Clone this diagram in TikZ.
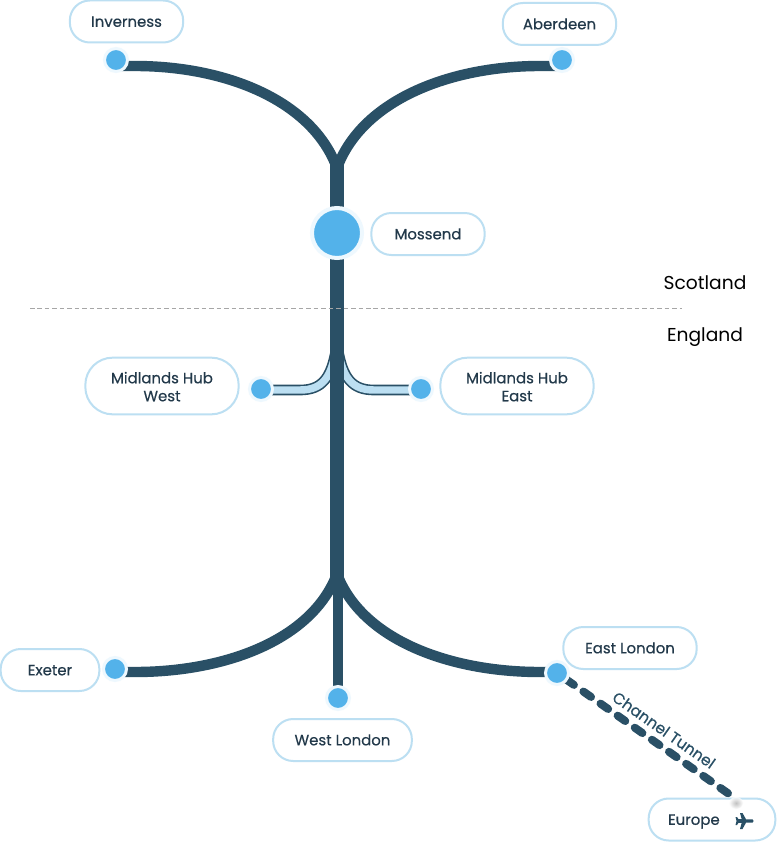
\documentclass[tikz,border=0pt]{standalone}
\usepackage{fontspec}
\usetikzlibrary{backgrounds}
\setmainfont{Poppins}
\newfontfamily\lblfont[FakeBold=0.35]{Poppins}
\definecolor{rail}{HTML}{2A5066}
\definecolor{stn}{HTML}{53B2EA}
\definecolor{halo}{HTML}{EEF8FE}
\definecolor{pill}{HTML}{BCDFF2}
\definecolor{ink}{HTML}{22394A}
\tikzset{
  x=0.75pt,y=-0.75pt,
  pillbase/.style={draw=pill,line width=1.5pt,fill=white,align=center,text=ink,font=\lblfont\fontsize{11.2}{13.5}\selectfont,inner sep=0pt},
  label/.style={pillbase,rounded corners=15pt,minimum height=31.5pt,text height=8pt,text depth=0pt},
  tall/.style={pillbase,rounded corners=20.5pt,minimum height=42.5pt},
  stop/.style={circle,fill=stn,draw=halo,line width=2.25pt,minimum size=17.25pt,inner sep=0pt,outer sep=0pt},
  bigstop/.style={stop,line width=3pt,minimum size=37.5pt},
  mainrail/.style={draw=rail,line width=10.5pt},
  stem/.style={draw=rail,line width=7.8pt},
  branch/.style={draw=rail,line width=7.8pt},
  spur/.style={draw=rail,line width=8pt},
  spurin/.style={draw=pill,line width=5.6pt},
  region/.style={text=black,font=\fontsize{14}{16}\selectfont},
  tunnel/.style={draw=rail,line width=6pt,line cap=round,dash pattern=on 7pt off 8.7pt,dash phase=7.2pt}
}
\begin{document}
\begin{tikzpicture}
\useasboundingbox (0,0) rectangle (777,842);
% stops
\node[stop] (inv) at (116,60) {};
\node[stop] (abe) at (562,60) {};
\node[bigstop] (mos) at (337,233) {};
\node[stop] (mhw) at (261,389) {};
\node[stop] (mhe) at (421,389) {};
\node[stop] (exe) at (115,669) {};
\node[stop] (wlo) at (338,698) {};
\node[stop] (elo) at (557,673) {};
% free ends and junctions
\coordinate (top) at (337,165);
\coordinate (lowend) at (337,588);
\coordinate (stemtop) at (338,575);
\coordinate (topj) at (337,168);
\coordinate (lowj) at (337,574);
\coordinate (midjl) at (336,350);
\coordinate (midjr) at (338,350);
\coordinate (invr) at (135,66);
\coordinate (aber) at (540,66);
\coordinate (exer) at (135,672);
\coordinate (elor) at (540,672);
\coordinate (mhwr) at (300,390);
\coordinate (mher) at (374,390);
\coordinate (tunnelend) at (729,794);
\begin{scope}[on background layer]
\fill[white] (0,0) rectangle (777,842);
\draw[spur] (midjl) .. controls (331,378) and (322,390) .. (mhwr) -- (mhw.center |- mhwr);
\draw[spur] (midjr) .. controls (343,378) and (352,390) .. (mher) -- (mhe.center |- mher);
\draw[spurin] (midjl) .. controls (331,378) and (322,390) .. (mhwr) -- (mhw.center |- mhwr);
\draw[spurin] (midjr) .. controls (343,378) and (352,390) .. (mher) -- (mhe.center |- mher);
\draw[mainrail] (top) -- (lowend);
\draw[stem] (stemtop) -- (wlo.center);
\draw[branch] (topj) .. controls (312,100) and (225,66) .. (invr) -- (inv.center |- invr);
\draw[branch] (topj) .. controls (362,100) and (450,66) .. (aber) -- (abe.center |- aber);
\draw[branch] (lowj) .. controls (312,640) and (225,672) .. (exer) -- (exe.center |- exer);
\draw[branch] (lowj) .. controls (362,640) and (450,672) .. (elor) -- (elo.center |- elor);
\draw[tunnel] (elo.center) -- (tunnelend);
\end{scope}
% labels
\node[label,minimum width=85pt] (linv) at (126.5,21.5) {Inverness};
\node[label,minimum width=85pt] (labe) at (559.5,24) {Aberdeen};
\node[label,minimum width=85pt] (lmos) at (428,234) {Mossend};
\node[tall,minimum width=115pt] (lmhw) at (162,386) {\rule{0pt}{9.5pt}Midlands Hub\\West};
\node[tall,minimum width=115pt] (lmhe) at (517,386) {\rule{0pt}{9.5pt}Midlands Hub\\East};
\node[label,minimum width=74pt] (lexe) at (50,670) {Exeter};
\node[label,minimum width=104pt] (lwlo) at (342.5,740) {West London};
\node[label,minimum width=100pt] (lelo) at (630,648) {East London};
\node[label,minimum width=95pt,text width=85pt,align=left] (leur) at (712,819.5) {\hspace*{9.5pt}Europe};
\fill[rail,shift={(744.5,821)}] (8,-1.7) .. controls (9.5,-1) and (9.5,1) .. (8,1.7) -- (1.5,1.7) -- (-2,8) -- (-4.5,8) -- (-2.8,1.8) -- (-6,1.8) -- (-7.5,4) -- (-9,4) -- (-8,0) -- (-9,-4) -- (-7.5,-4) -- (-6,-1.8) -- (-2.8,-1.8) -- (-4.5,-8) -- (-2,-8) -- (1.5,-1.7) -- cycle;
% edge label and regions
\node[rotate=-35,text=rail,font=\lblfont\fontsize{11.6}{13}\selectfont] (ct) at (664,730) {Channel Tunnel};
\node[region] (sco) at (705,283) {Scotland};
\node[region] (eng) at (705,337.5) {England};
\coordinate (bl) at (30,308.5);
\coordinate (br) at (682,308.5);
\draw[gray!70,line width=0.9pt,dash pattern=on 3.4pt off 2.2pt] (bl) -- (br);
\shade[inner color=gray!60,outer color=white,opacity=0.8] (736,803) ellipse (7 and 6);
\end{tikzpicture}
\end{document}
